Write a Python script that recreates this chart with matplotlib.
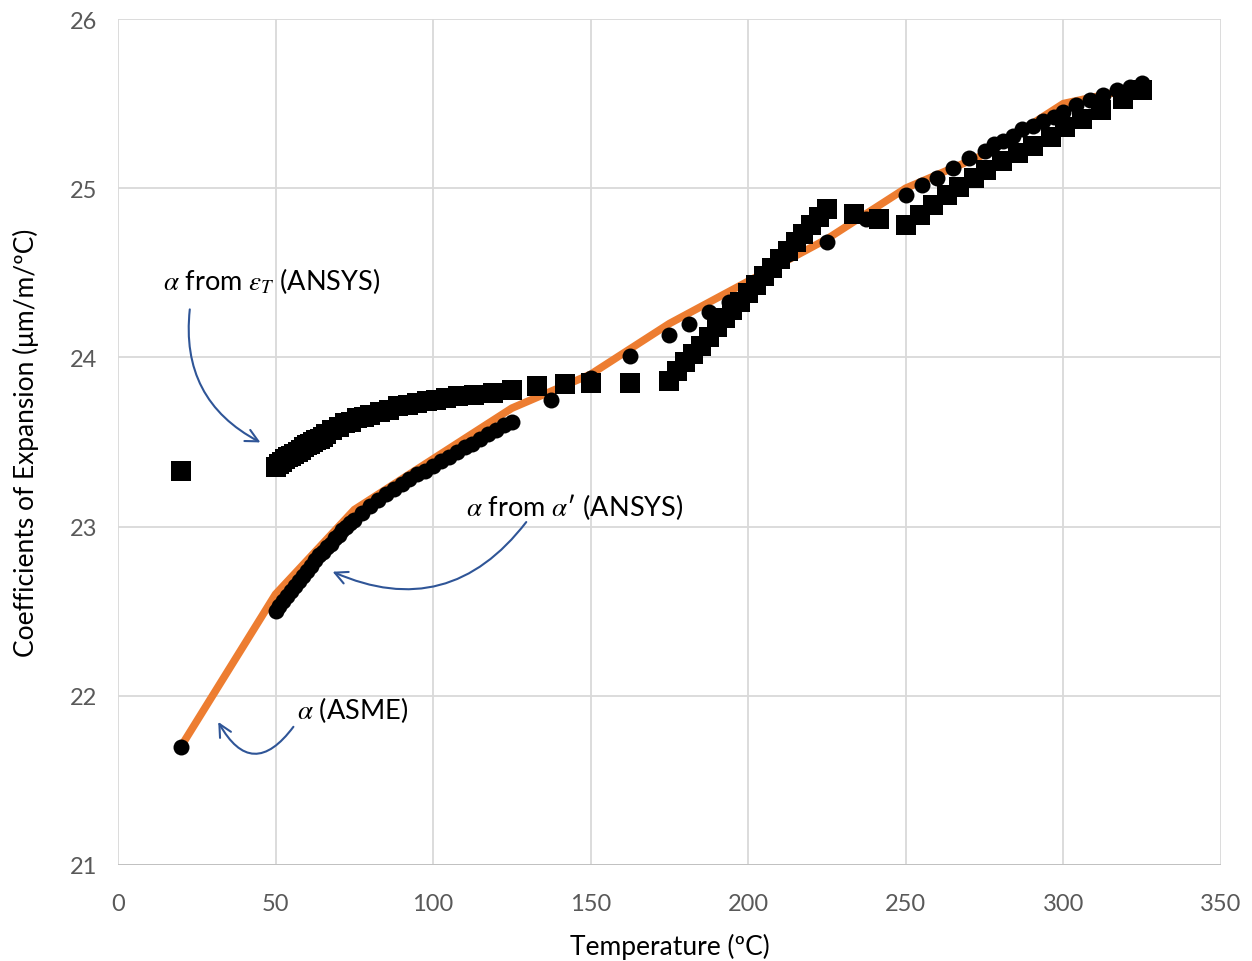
import numpy as np
import matplotlib
matplotlib.use("Agg")
import matplotlib.pyplot as plt

plt.rcParams['font.family'] = ['Lato', 'DejaVu Sans']
plt.rcParams['mathtext.fontset'] = 'stix'

# ASME alpha (orange line)
asme_T = [20, 50, 75, 100, 125, 150, 175, 200, 225, 250, 275, 300, 325]
asme_a = [21.7, 22.6, 23.1, 23.4, 23.7, 23.9, 24.2, 24.45, 24.7, 25.0, 25.2, 25.5, 25.6]

# alpha from alpha' (ANSYS) - circles
circ_T = [20, 50, 51.25, 52.5, 53.75, 55, 56.25, 57.5, 58.75, 60, 61.25, 62.5, 63.75, 65,
          66.25, 67.5, 68.75, 70, 71.25, 72.5, 73.75, 75, 77.5, 80, 82.5, 85,
          87.5, 90, 92.5, 95, 97.5, 100, 102.5, 105, 107.5, 110, 112.5, 115, 117.5, 120,
          122.5, 125, 137.5, 150, 162.5, 175, 181.25, 187.5, 193.75, 200, 212.5, 225,
          237.5, 250, 255, 260, 265, 270, 275, 278, 281, 284, 287, 290.5, 293.5, 297,
          300, 304, 308.5, 312.5, 317, 321, 325]
circ_a = [21.7, 22.50, 22.53, 22.56, 22.59, 22.62, 22.65, 22.68, 22.71, 22.74, 22.77,
          22.80, 22.83, 22.85, 22.88, 22.90, 22.93, 22.95, 22.98, 23.00, 23.02,
          23.04, 23.08, 23.12, 23.16, 23.19, 23.22, 23.25, 23.28, 23.31, 23.33, 23.36,
          23.39, 23.41, 23.44, 23.47, 23.49, 23.52, 23.55, 23.57, 23.60, 23.62, 23.75,
          23.88, 24.01, 24.13, 24.20, 24.27, 24.33, 24.39, 24.61, 24.68, 24.82, 24.96,
          25.02, 25.06, 25.12, 25.18, 25.22, 25.26, 25.28, 25.31, 25.35, 25.37, 25.40,
          25.42, 25.45, 25.49, 25.52, 25.55, 25.58, 25.60, 25.62]

# alpha from eps_T (ANSYS) - squares
sq_T = [20, 50, 51, 52, 53, 54, 55, 56, 57, 58, 59, 60, 61, 62, 63, 64, 65, 66, 68, 70,
        72, 74, 76, 78, 80, 83, 86, 89,
        92, 95, 98, 101, 104, 108, 113, 119, 125, 133, 142, 150, 162.5, 175, 177.5, 180,
        182.5, 185, 187.5, 190, 192.5, 195, 197.5, 200, 202.5, 205, 207.5, 210, 212.5,
        215, 217.5, 220, 222.5, 225, 233.5, 241.5, 250, 254.5, 258.5, 263, 267, 271.5,
        275.5, 280.5, 285.5, 290.5, 296, 300.5, 306, 312, 319, 325]
sq_a = [23.33, 23.35, 23.37, 23.38, 23.40, 23.41, 23.42, 23.43, 23.44, 23.45, 23.47,
        23.48, 23.49, 23.50, 23.51, 23.52, 23.53, 23.55, 23.57,
        23.59, 23.61, 23.62, 23.64, 23.65, 23.66, 23.68, 23.69, 23.71, 23.72, 23.73,
        23.74, 23.75, 23.76, 23.77, 23.78, 23.79, 23.81, 23.83, 23.84, 23.85, 23.85,
        23.86, 23.92, 23.97, 24.02, 24.07, 24.12, 24.18, 24.23, 24.28, 24.33, 24.38,
        24.43, 24.48, 24.53, 24.58, 24.63, 24.68, 24.73, 24.78, 24.83, 24.88, 24.85,
        24.82, 24.78, 24.84, 24.90, 24.96, 25.01, 25.06, 25.11, 25.16, 25.21, 25.25,
        25.30, 25.36, 25.41, 25.46, 25.53, 25.58]

fig = plt.figure(figsize=(12.52, 9.62), dpi=100)
ax = fig.add_axes([0.0942, 0.0998, 0.881, 0.8794])

ax.plot(asme_T, asme_a, color='#ED7D31', lw=5.5, zorder=2, solid_joinstyle='miter')
ax.plot(circ_T, circ_a, 'o', color='black', ms=11.5, mew=0, zorder=3)
ax.plot(sq_T, sq_a, 's', color='black', ms=14, mew=0, zorder=3)

ax.set_xlim(0, 350)
ax.set_ylim(21, 26)
ax.set_xticks(np.arange(0, 351, 50))
ax.set_yticks(np.arange(21, 26.1, 1))
ax.grid(True, color='#D9D9D9', lw=1.3, zorder=0)
ax.set_axisbelow(True)
for s in ax.spines.values():
    s.set_visible(False)
ax.axhline(21, color='#BFBFBF', lw=1.3, zorder=1)
ax.tick_params(length=0, labelsize=17, labelcolor='#595959')
ax.tick_params(axis='x', pad=20)
ax.tick_params(axis='y', pad=15)

ax.set_xlabel('Temperature (ºC)', fontsize=19, labelpad=14)
ax.set_ylabel('Coefficients of Expansion (μm/m/ºC)', fontsize=19, labelpad=22)

blue = '#2F5597'
ax.text(14.3, 24.46, r'$\alpha$ from $\varepsilon_T$ (ANSYS)', fontsize=19.5, va='center')
ax.text(110.4, 23.12, r"$\alpha$ from $\alpha$′ (ANSYS)", fontsize=19.5, va='center')
ax.text(56.8, 21.92, r'$\alpha$ (ASME)', fontsize=19.5, va='center')

ax.annotate('', xy=(46.0, 23.49), xytext=(22.9, 24.30),
            arrowprops=dict(arrowstyle='->,head_length=0.9,head_width=0.45', color=blue,
                            lw=1.5, connectionstyle='arc3,rad=0.35'))
ax.annotate('', xy=(67.3, 22.74), xytext=(130.1, 23.04),
            arrowprops=dict(arrowstyle='->,head_length=0.9,head_width=0.45', color=blue,
                            lw=1.5, connectionstyle='arc3,rad=-0.4'))
ax.annotate('', xy=(31.4, 21.86), xytext=(56.2, 21.83),
            arrowprops=dict(arrowstyle='->,head_length=0.9,head_width=0.45', color=blue,
                            lw=1.5, connectionstyle='arc3,rad=-0.8'))

fig.savefig('out.png', dpi=100)
